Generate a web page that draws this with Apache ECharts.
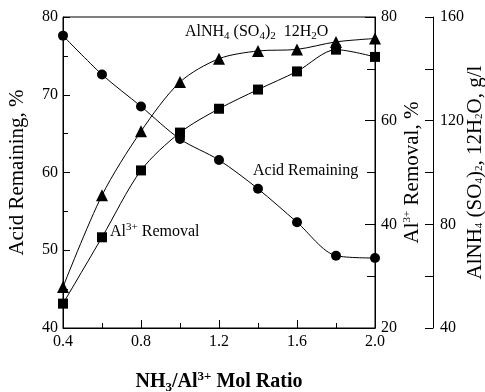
<!DOCTYPE html>
<html><head><meta charset="utf-8">
<script src="https://cdn.jsdelivr.net/npm/echarts@6/dist/echarts.min.js"></script>
<style>html,body{margin:0;padding:0;background:#fff}#c{width:485px;height:392px}</style>
</head><body><div id="c"></div>
<script>
const ratio = [0.4, 0.6, 0.8, 1.0, 1.2, 1.4, 1.6, 1.8, 2.0];
const acidRemaining = [77.6, 72.6, 68.5, 64.3, 61.6, 57.9, 53.6, 49.3, 49.0];
const alRemoval = [24.7, 37.5, 50.4, 57.7, 62.3, 66.0, 69.5, 73.7, 72.3];
const alnh4 = [55.8, 91.2, 115.9, 134.9, 143.9, 146.9, 147.5, 150.4, 151.7];

const FONT = 'Liberation Serif';
const rich = {
  sub: {fontFamily: FONT, fontSize: 11, verticalAlign: 'bottom', lineHeight: 20, color: '#000'},
  sup: {fontFamily: FONT, fontSize: 11, verticalAlign: 'top', lineHeight: 20, color: '#000'},
  bsub: {fontFamily: FONT, fontSize: 13, fontWeight: 'bold', verticalAlign: 'bottom', lineHeight: 24, color: '#000'},
  bsup: {fontFamily: FONT, fontSize: 13, fontWeight: 'bold', verticalAlign: 'top', lineHeight: 24, color: '#000'}
};
const pairs = ys => ratio.map((x, i) => [x, ys[i]]);
const axisLine = {show: true, lineStyle: {color: '#000', width: 1}};
const labelStyle = {color: '#000', fontFamily: FONT, fontSize: 16};
const nameStyle = {color: '#000', fontFamily: FONT, fontSize: 21, lineHeight: 20, rich: rich};

const chart = echarts.init(document.getElementById('c'), null, {renderer: 'canvas'});
chart.setOption({
  animation: false,
  backgroundColor: '#fff',
  grid: {left: 63, right: 110, top: 17, bottom: 64, show: true, borderColor: '#000', borderWidth: 1,
    containLabel: false, outerBoundsMode: 'none'},
  xAxis: {
    type: 'value', min: 0.4, max: 2.0, interval: 0.4,
    name: 'NH{bsub|3}/Al{bsup|3+} Mol Ratio', nameLocation: 'middle', nameGap: 42, nameMoveOverlap: false,
    nameTextStyle: {color: '#000', fontFamily: FONT, fontSize: 20, fontWeight: 'bold', lineHeight: 24, rich: rich},
    axisLine: axisLine,
    axisTick: {inside: true, length: 8, lineStyle: {color: '#000'}},
    minorTick: {show: true, splitNumber: 2, length: 5, lineStyle: {color: '#000'}},
    axisLabel: Object.assign({margin: 6, formatter: v => v.toFixed(1)}, labelStyle),
    splitLine: {show: false}
  },
  yAxis: [
    {
      type: 'value', position: 'left', min: 40, max: 80, interval: 10,
      name: 'Acid Remaining, %', nameLocation: 'middle', nameRotate: 90, nameGap: 36, nameMoveOverlap: false,
      nameTextStyle: nameStyle,
      axisLine: axisLine,
      axisTick: {inside: true, length: 7, lineStyle: {color: '#000'}},
      minorTick: {show: true, splitNumber: 2, length: 5, lineStyle: {color: '#000'}},
      axisLabel: Object.assign({margin: 5}, labelStyle),
      splitLine: {show: false}
    },
    {
      type: 'value', position: 'right', offset: 0, min: 20, max: 80, interval: 20,
      name: 'Al{sup|3+} Removal, %', nameLocation: 'middle', nameRotate: 90, nameGap: 27, nameMoveOverlap: false,
      nameTextStyle: nameStyle,
      axisLine: axisLine,
      axisTick: {inside: true, length: 10, lineStyle: {color: '#000'}},
      minorTick: {show: true, splitNumber: 2, length: 8, lineStyle: {color: '#000'}},
      axisLabel: Object.assign({margin: 6}, labelStyle),
      splitLine: {show: false}
    },
    {
      type: 'value', position: 'right', offset: 58, min: 40, max: 160, interval: 40,
      name: 'AlNH{sub|4} (SO{sub|4}){sub|2}, 12H{sub|2}O, g/l', nameLocation: 'middle', nameRotate: 90, nameGap: 32, nameMoveOverlap: false,
      nameTextStyle: nameStyle,
      axisLine: axisLine,
      axisTick: {inside: true, length: 8, lineStyle: {color: '#000'}},
      minorTick: {show: true, splitNumber: 2, length: 8, lineStyle: {color: '#000'}},
      axisLabel: Object.assign({margin: 7}, labelStyle),
      splitLine: {show: false}
    }
  ],
  graphic: [
    {type: 'text', x: 185, y: 32, style: {text: 'AlNH{sub|4} (SO{sub|4}){sub|2}  12H{sub|2}O', fontFamily: FONT, fontSize: 16, fill: '#000', lineHeight: 20, rich: rich, align: 'left', verticalAlign: 'middle'}},
    {type: 'text', x: 253, y: 171, style: {text: 'Acid Remaining', fontFamily: FONT, fontSize: 16, fill: '#000', align: 'left', verticalAlign: 'middle'}},
    {type: 'text', x: 110, y: 232, style: {text: 'Al{sup|3+} Removal', fontFamily: FONT, fontSize: 16, fill: '#000', lineHeight: 20, rich: rich, align: 'left', verticalAlign: 'middle'}}
  ],
  series: [
    {type: 'line', name: 'Acid Remaining', yAxisIndex: 0, data: pairs(acidRemaining), smooth: 0.3,
      symbol: 'circle', symbolSize: 10, itemStyle: {color: '#000'}, lineStyle: {color: '#000', width: 1}},
    {type: 'line', name: 'Al3+ Removal', yAxisIndex: 1, data: pairs(alRemoval), smooth: 0.3,
      symbol: 'rect', symbolSize: 10, itemStyle: {color: '#000'}, lineStyle: {color: '#000', width: 1}},
    {type: 'line', name: 'AlNH4(SO4)2 12H2O', yAxisIndex: 2, data: pairs(alnh4), smooth: 0.3,
      symbol: 'triangle', symbolSize: 12, itemStyle: {color: '#000'}, lineStyle: {color: '#000', width: 1}}
  ]
});
</script></body></html>
